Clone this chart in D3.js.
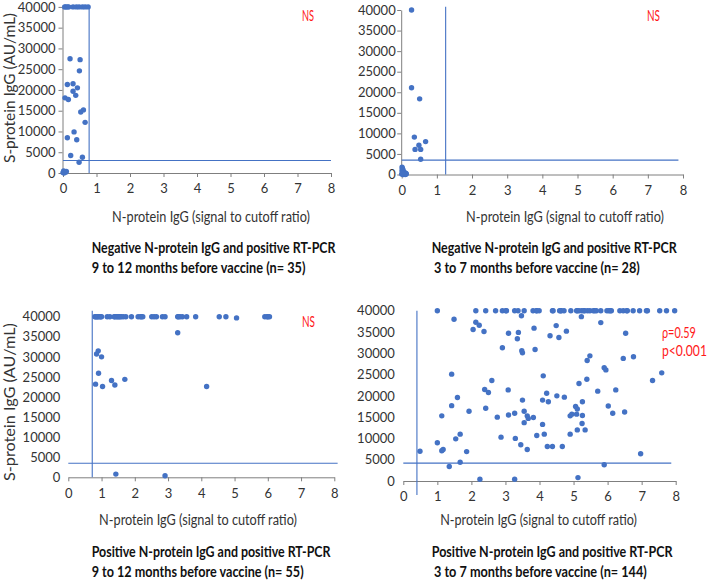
<!DOCTYPE html>
<html><head><meta charset="utf-8">
<script src="https://cdn.jsdelivr.net/npm/d3@7"></script>
<style>
body{margin:0;background:#fff}
svg{display:block}
text{font-family:Lato,"Open Sans",sans-serif}
</style>
</head><body>
<svg id="chart" width="709" height="582"></svg>
<script>
// ---------- data ----------
const xTicks = [0,1,2,3,4,5,6,7,8];
const yTicks = [0,5000,10000,15000,20000,25000,30000,35000,40000];

const p1X = [0.05,0.08,0.13,0.17,0.30,0.40,0.48,0.58,0.66,0.75,
  0.21,0.51,0.49,0.13,0.30,0.43,0.30,0.38,0.06,0.16,0.61,0.53,0.66,0.33,0.13,0.41,0.23,0.58,0.48,
  0.02,0.05,0.08,0.00,0.03,0.10];
const p1Y = [40000,40000,40000,40000,40000,40000,40000,40000,40000,40000,
  27500,27300,24600,21300,21500,20500,19700,18700,18100,17700,15200,14700,12200,9900,8500,8000,4200,3800,2600,
  500,300,200,100,0,400];

const p2X = [0.28,0.28,0.51,0.36,0.68,0.49,0.54,0.38,0.54,
  0.01,0.02,0.03,0.01,0.04,0.02,0.05,0.07,0.03,0.09,0.11,0.13,0.06,0.00,0.08,0.04,0.10,0.12,0.02];
const p2Y = [40000,21100,18400,9100,8000,7100,6100,6100,3700,
  1800,1500,1200,1000,900,700,600,500,400,400,300,200,200,100,100,0,0,100,250];

const p3X = [0.80,0.82,0.85,0.88,0.90,0.95,0.97,1.00,1.17,1.25,1.38,1.40,1.45,1.48,1.52,1.55,1.59,1.65,1.73,1.90,
  2.10,2.17,2.20,2.24,2.51,2.58,2.65,2.83,2.91,3.29,3.31,3.36,3.43,3.56,3.83,4.54,4.74,5.06,5.91,5.98,6.00,6.05,
  3.29,0.90,0.85,1.00,0.91,1.70,1.30,0.82,1.40,1.03,4.16,1.43,2.91];
const p3Y = [40000,40000,40000,40000,40000,40000,40000,40000,40000,40000,40000,40000,40000,40000,40000,40000,40000,40000,40000,40000,
  40000,40000,40000,40000,40000,40000,40000,40000,40000,40000,40000,40000,40000,40000,40000,40000,40000,39700,40000,40000,40000,40000,
  36000,31500,30700,30000,25900,24400,24100,23200,23000,22600,22600,800,400];

const p4X = [1.00,2.13,2.42,2.71,2.91,3.01,3.03,3.27,3.37,3.55,3.81,3.91,3.92,3.99,4.38,4.40,4.59,4.62,4.64,4.72,4.92,
  5.09,5.11,5.16,5.24,5.30,5.33,5.41,5.48,5.58,5.62,5.67,5.80,5.98,6.04,6.08,6.11,6.36,6.46,6.56,6.58,6.75,6.94,
  7.14,7.17,7.53,7.73,7.97,
  1.49,2.13,2.23,2.05,2.37,3.09,3.38,3.35,3.47,3.84,4.49,4.79,4.57,4.31,5.23,5.80,6.53,2.91,3.48,3.50,3.87,
  5.48,5.40,6.76,6.46,1.42,4.11,5.90,5.95,7.59,7.32,2.60,5.39,5.16,1.59,2.39,2.50,3.08,4.21,4.26,4.51,4.73,
  5.71,6.24,4.09,3.50,1.42,2.42,1.93,1.13,2.76,3.09,3.27,3.55,3.64,3.67,3.82,3.55,4.09,5.06,5.11,5.26,5.09,
  5.26,4.90,4.95,6.02,6.15,6.50,5.25,5.34,5.11,4.90,3.92,4.14,2.87,3.29,1.67,1.54,1.00,1.13,1.17,0.49,1.86,
  3.45,3.64,4.23,4.38,4.67,1.67,1.35,6.97,5.90,2.25,3.27,5.13];
const p4Y = [40000,40000,40000,40000,40000,40000,40000,40000,40000,40000,40000,40000,40000,40000,40000,40000,40000,
  40000,40000,40000,40000,40000,40000,40000,40000,40000,40000,40000,40000,40000,40000,40000,40000,40000,40000,40000,
  40000,40000,40000,40000,40000,40000,40000,40000,40000,40000,40000,40000,
  38000,37300,36600,35600,35100,34700,34900,33400,38800,35900,36500,35200,33700,34100,38600,37200,34700,31300,30600,30100,30900,
  29400,28300,29200,28800,25100,24700,26600,26100,25400,23600,23600,23900,22900,19600,21500,20800,21400,20600,18600,20000,19700,
  21100,21400,19000,19000,17700,17100,16400,15300,15000,15500,15900,16400,15300,14700,14900,13700,13300,17500,16900,18600,15700,
  15400,15300,15700,17600,15900,16200,13500,12000,12000,11000,10700,11000,10300,10000,11000,9900,9000,7100,7400,7000,6900,
  8500,7400,8100,8100,8100,4400,3400,6400,3800,400,400,800];

const cutoffX = [0.78, 1.25, 0.72, 0.40];
const cutoffY = [3000, 3500, 3500, 4200];

const xAxisTitle = "N-protein IgG (signal to cutoff ratio)";
const yAxisTitle = "S-protein IgG (AU/mL)";
const titleLine1 = ["Negative N-protein IgG and positive RT-PCR","Negative N-protein IgG and positive RT-PCR",
                    "Positive N-protein IgG and positive RT-PCR","Positive N-protein IgG and positive RT-PCR"];
const titleLine2 = ["9 to 12 months before vaccine  (n= 35)","3 to 7 months before vaccine (n= 28)",
                    "9 to 12 months before vaccine (n= 55)","3 to 7 months before vaccine (n= 144)"];
const statLines = [["NS"],["NS"],["NS"],["\u03C1=0.59","p<0.001"]];

// ---------- layout ----------
const layout = [
  {xr:[63,331], yr:[173,6.9], yLine:true, yPad:3, vTop:40000, vBot:0, hEnd:8,
   yLab:{x:15,y:88,len:150}, xLab:{x:211,y:222,len:198},
   t1:{x:91.7,y:253,len:244}, t2:{x:91.7,y:273,len:214},
   st:[{x:302,y:21,len:12}]},
  {xr:[401.7,683], yr:[174.5,10], yLine:true, yPad:1.5, vTop:40800, vBot:0, hEnd:7.87,
   yLab:null, xLab:{x:565,y:222,len:198},
   t1:{x:431.7,y:253,len:245}, t2:{x:434,y:273,len:206},
   st:[{x:647,y:21,len:13}]},
  {xr:[68.3,334.3], yr:[477.3,316.7], yLine:false, yPad:8, vTop:41500, vBot:0, hEnd:8.1,
   yLab:{x:15,y:402,len:158}, xLab:{x:198,y:525,len:198},
   t1:{x:91.7,y:557,len:239}, t2:{x:91.7,y:577,len:212},
   st:[{x:302,y:327,len:13}]},
  {xr:[403.3,675.7], yr:[481,310.7], yLine:false, yPad:8.5, vTop:40000, vBot:-3300, hEnd:7.87,
   yLab:null, xLab:{x:538.5,y:525,len:197},
   t1:{x:431.7,y:557,len:241}, t2:{x:434,y:577,len:213},
   st:[{x:662,y:338,len:34},{x:662,y:356,len:45}]}
];
const dataX = [p1X,p2X,p3X,p4X];
const dataY = [p1Y,p2Y,p3Y,p4Y];

const blue = "#4472C4";
const axisCol = "#7f7f7f";
const svg = d3.select("#chart");

// place a text and squeeze it horizontally to a given width
function fitText(g, str, x, y, len, size, opts) {
  opts = opts || {};
  const t = g.append("text").text(str).attr("font-size", size)
    .attr("fill", opts.fill || "#333")
    .attr("font-weight", opts.bold ? "bold" : null)
    .attr("text-anchor", opts.anchor || "start");
  const w = t.node().getComputedTextLength();
  const sx = w > 0 ? len / w : 1;
  const rot = opts.rotate ? ` rotate(${opts.rotate})` : "";
  t.attr("transform", `translate(${x},${y})${rot} scale(${sx},1)`);
  return t;
}

layout.forEach((L, i) => {
  const g = svg.append("g");
  const x = d3.scaleLinear().domain([0,8]).range(L.xr);
  const y = d3.scaleLinear().domain([0,40000]).range(L.yr);

  // x axis
  const xa = g.append("g").attr("transform", `translate(0,${L.yr[0]})`)
    .call(d3.axisBottom(x).tickValues(xTicks).tickSize(4).tickSizeOuter(0).tickPadding(7).tickFormat(d3.format("d")));
  xa.select(".domain").attr("stroke", axisCol);
  xa.selectAll(".tick line").attr("stroke", axisCol);
  xa.selectAll("text").attr("font-size", 13).attr("fill", "#333").style("font-family","Lato");

  // y axis
  const ya = g.append("g").attr("transform", `translate(${L.xr[0] - (L.yLine ? 0.5 : 0)},0)`)
    .call(d3.axisLeft(y).tickValues(yTicks).tickSize(L.yLine ? 4 : 0).tickSizeOuter(0).tickPadding(L.yPad).tickFormat(d3.format("d")));
  if (L.yLine) {
    ya.select(".domain").attr("stroke", axisCol);
    ya.selectAll(".tick line").attr("stroke", axisCol);
  } else {
    ya.select(".domain").remove();
  }
  ya.selectAll("text").attr("font-size", 13).attr("fill", "#333").style("font-family","Lato");

  // cutoff lines
  g.append("line").attr("x1", x(cutoffX[i])).attr("x2", x(cutoffX[i]))
    .attr("y1", y(L.vTop)).attr("y2", y(L.vBot)).attr("stroke", blue).attr("stroke-width", 1.1);
  g.append("line").attr("x1", x(0)).attr("x2", x(L.hEnd))
    .attr("y1", y(cutoffY[i])).attr("y2", y(cutoffY[i])).attr("stroke", blue).attr("stroke-width", 1.1);

  // points
  g.append("g").selectAll("circle").data(d3.range(dataX[i].length)).join("circle")
    .attr("cx", k => x(dataX[i][k])).attr("cy", k => y(dataY[i][k]))
    .attr("r", 2.7).attr("fill", blue);

  // axis titles
  if (L.yLab) {
    fitText(g, yAxisTitle, L.yLab.x, L.yLab.y, L.yLab.len, 16, {anchor:"middle", rotate:-90});
  }
  fitText(g, xAxisTitle, L.xLab.x, L.xLab.y, L.xLab.len, 15.5, {anchor:"middle"});

  // panel titles
  fitText(g, titleLine1[i], L.t1.x, L.t1.y, L.t1.len, 15, {bold:true, fill:"#111"});
  fitText(g, titleLine2[i], L.t2.x, L.t2.y, L.t2.len, 15, {bold:true, fill:"#111"});

  // stats
  statLines[i].forEach((s, j) => {
    const p = L.st[j];
    fitText(g, s, p.x, p.y, p.len, 15.5, {fill:"#ff1a1a"});
  });
});
</script>
</body></html>
